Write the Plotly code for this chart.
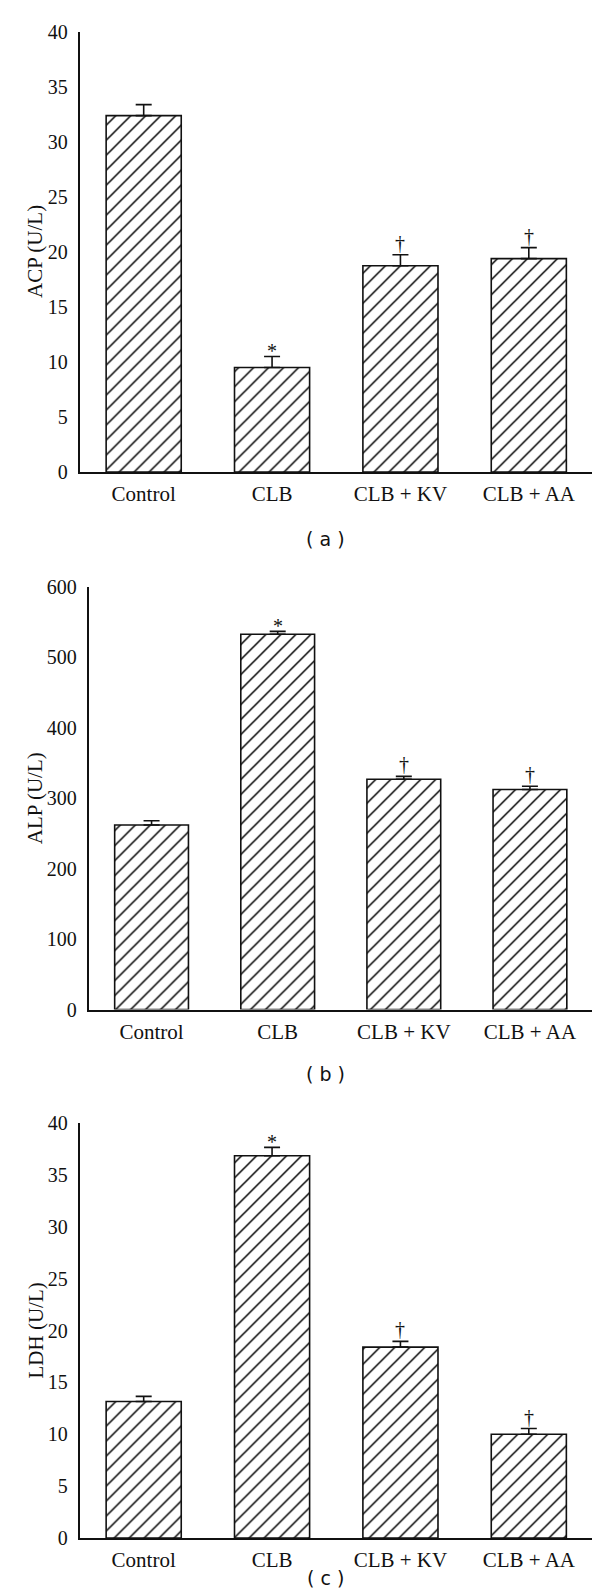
import plotly.graph_objects as go

# ---------------- data ----------------
categories = ["Control", "CLB", "CLB + KV", "CLB + AA"]

acp_values = [32.4, 9.5, 18.75, 19.4]
acp_errors = [1.0, 1.0, 1.0, 1.0]

alp_values = [262, 533, 327, 312.5]
alp_errors = [6, 4, 4, 4.5]

ldh_values = [13.15, 36.85, 18.4, 10.0]
ldh_errors = [0.5, 0.8, 0.55, 0.55]

significance = ["", "*", "\u2020", "\u2020"]

acp_ticks = [0, 5, 10, 15, 20, 25, 30, 35, 40]
alp_ticks = [0, 100, 200, 300, 400, 500, 600]
ldh_ticks = [0, 5, 10, 15, 20, 25, 30, 35, 40]

y_titles = ["ACP (U/L)", "ALP (U/L)", "LDH (U/L)"]
panel_labels = ["( a )", "( b )", "( c )"]

# ---------------- layout geometry (pixels, page offset compensated) ----------------
W, H = 600, 1591
INK = "#111111"
SERIF = "Liberation Serif, Times New Roman, serif"
SANS = "DejaVu Sans, Verdana, sans-serif"

panels = [
    dict(values=acp_values, errors=acp_errors, ticks=acp_ticks, x0=71.5, x1=585, ytop=24, ybot=464, label_y=531),
    dict(values=alp_values, errors=alp_errors, ticks=alp_ticks, x0=80.5, x1=585, ytop=579, ybot=1001.5, label_y=1066),
    dict(values=ldh_values, errors=ldh_errors, ticks=ldh_ticks, x0=71.5, x1=585, ytop=1115, ybot=1530, label_y=1570),
]


def py(p):
    return 1 - p / H


fig = go.Figure()
annotations = []
layout_axes = {}

for i, p in enumerate(panels):
    sfx = "" if i == 0 else str(i + 1)
    xa, ya = "x" + sfx, "y" + sfx
    fig.add_trace(go.Bar(
        x=categories,
        y=p["values"],
        width=0.585,
        xaxis=xa,
        yaxis=ya,
        marker=dict(
            color="white",
            line=dict(color=INK, width=1.6),
            pattern=dict(shape="/", fgcolor="#000000", bgcolor="white", size=10.6, solidity=0.14),
        ),
        error_y=dict(
            type="data",
            symmetric=False,
            array=p["errors"],
            arrayminus=[0] * len(p["errors"]),
            color=INK,
            thickness=1.6,
            width=8,
        ),
        showlegend=False,
        hoverinfo="skip",
    ))

    layout_axes["xaxis" + sfx] = dict(
        domain=[p["x0"] / W, p["x1"] / W],
        anchor=ya,
        type="category",
        range=[-0.5, 3.5],
        showline=True,
        linecolor=INK,
        linewidth=1.6,
        ticks="",
        showgrid=False,
        zeroline=False,
        automargin=False,
        tickfont=dict(family=SERIF, size=21, color=INK),
        ticklabelstandoff=2,
        fixedrange=True,
    )
    layout_axes["yaxis" + sfx] = dict(
        domain=[py(p["ybot"]), py(p["ytop"])],
        anchor=xa,
        range=[0, p["ticks"][-1]],
        tickmode="array",
        tickvals=p["ticks"],
        showline=True,
        linecolor=INK,
        linewidth=1.6,
        ticks="",
        showgrid=False,
        zeroline=False,
        automargin=False,
        tickfont=dict(family=SERIF, size=20, color=INK),
        ticklabelstandoff=6,
        fixedrange=True,
    )

    # significance markers
    for c, v, e, s in zip(categories, p["values"], p["errors"], significance):
        if s:
            annotations.append(dict(
                x=c, y=v + e, xref=xa, yref=ya, text=s, showarrow=False,
                yanchor="bottom", yshift=(-8 if s == "*" else -1),
                font=dict(family=SERIF, size=20, color=INK),
            ))

    # y-axis title
    annotations.append(dict(
        x=27 / W, y=py((p["ytop"] + p["ybot"]) / 2), xref="paper", yref="paper",
        text=y_titles[i], textangle=-90, showarrow=False,
        xanchor="center", yanchor="middle",
        font=dict(family=SERIF, size=21, color=INK),
    ))

    # panel label
    annotations.append(dict(
        x=317 / W, y=py(p["label_y"]), xref="paper", yref="paper",
        text=panel_labels[i], showarrow=False,
        xanchor="center", yanchor="middle",
        font=dict(family=SANS, size=19, color=INK),
    ))

fig.update_layout(
    template="none",
    width=W,
    height=H,
    autosize=False,
    margin=dict(l=0, r=0, t=0, b=0, pad=0),
    paper_bgcolor="white",
    plot_bgcolor="white",
    annotations=annotations,
    **layout_axes,
)

fig.write_html("out.html")
